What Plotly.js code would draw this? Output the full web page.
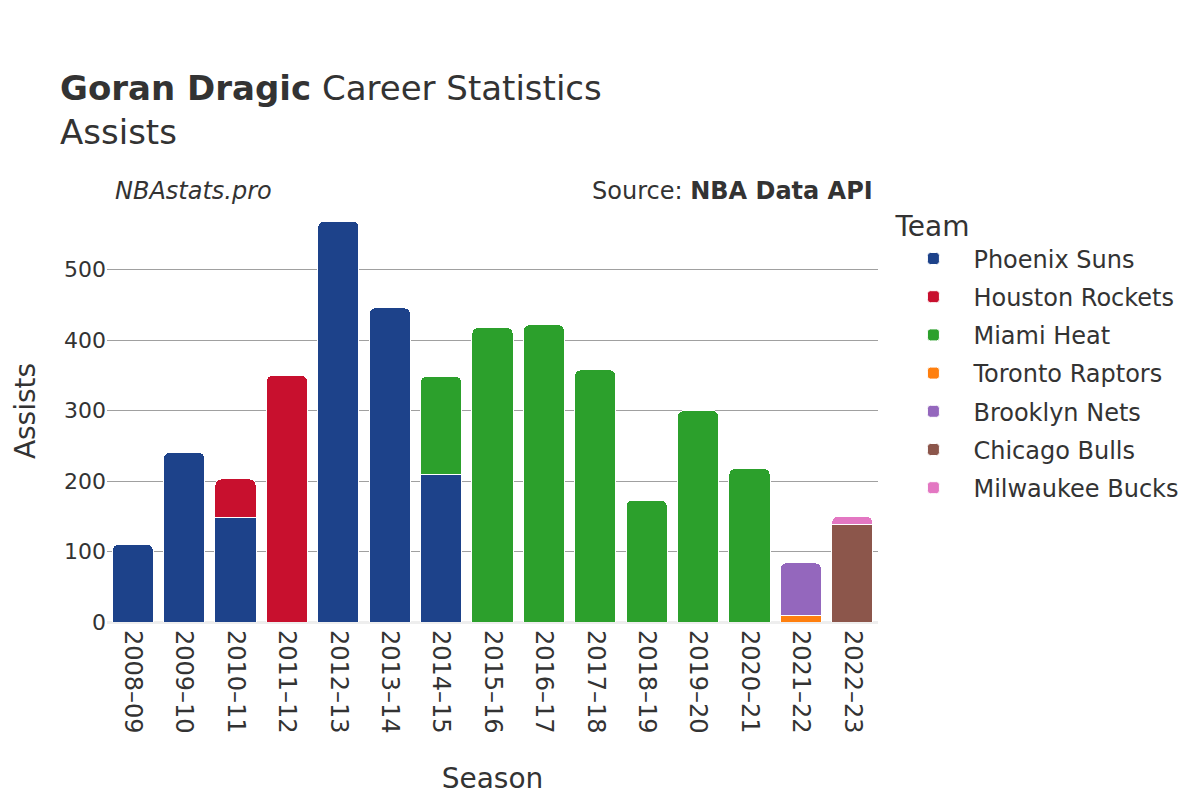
<!DOCTYPE html>
<html>
<head>
<meta charset="utf-8">
<script src="https://cdn.plot.ly/plotly-3.0.1.min.js"></script>
<style>html,body{margin:0;padding:0;background:#fff;}#chart{width:1200px;height:800px;}</style>
</head>
<body>
<div id="chart"></div>
<script>
const seasons = ["2008–09","2009–10","2010–11","2011–12","2012–13","2013–14","2014–15","2015–16","2016–17","2017–18","2018–19","2019–20","2020–21","2021–22","2022–23"];
const teams = ["Phoenix Suns","Houston Rockets","Miami Heat","Toronto Raptors","Brooklyn Nets","Chicago Bulls","Milwaukee Bucks"];
const colors = ["#1d428a","#c8102e","#2ca02c","#ff7f0e","#9467bd","#8c564b","#e377c2"];
const phoenix   = [110, 241, 149, null, 569, 446, 210, null, null, null, null, null, null, null, null];
const houston   = [null, null, 54, 350, null, null, null, null, null, null, null, null, null, null, null];
const miami     = [null, null, null, null, null, null, 139, 418, 422, 358, 173, 300, 218, null, null];
const toronto   = [null, null, null, null, null, null, null, null, null, null, null, null, null, 9, null];
const brooklyn  = [null, null, null, null, null, null, null, null, null, null, null, null, null, 75, null];
const chicago   = [null, null, null, null, null, null, null, null, null, null, null, null, null, null, 138];
const milwaukee = [null, null, null, null, null, null, null, null, null, null, null, null, null, null, 12];
const series = [phoenix, houston, miami, toronto, brooklyn, chicago, milwaukee];

const font = "DejaVu Sans";
const traces = teams.map((t, i) => ({
  type: "bar",
  name: t,
  legendgroup: t,
  x: seasons,
  y: series[i],
  marker: {color: colors[i], line: {color: "#ffffff", width: 1}},
  hovertemplate: "%{x}: %{y}<extra>" + t + "</extra>"
}));

const layout = {
  width: 1200, height: 800,
  font: {family: font, color: "#333"},
  paper_bgcolor: "#fff", plot_bgcolor: "#fff",
  barmode: "stack",
  bargap: 0.2,
  barcornerradius: 6,
  margin: {l: 107, r: 322, t: 200, b: 178},
  title: {
    text: "<b>Goran Dragic</b> Career Statistics<br>Assists",
    x: 0.05, xanchor: "left", xref: "container",
    y: 0.875, yanchor: "top", yref: "container",
    font: {family: font, size: 34, color: "#333"}
  },
  xaxis: {
    type: "category",
    tickangle: 90,
    tickfont: {family: font, size: 24, color: "#333"},
    ticklabelstandoff: 7,
    title: {text: "Season", font: {family: font, size: 28, color: "#333"}, standoff: 35},
    showgrid: false,
    ticks: ""
  },
  yaxis: {
    range: [0, 599],
    dtick: 100,
    tickfont: {family: font, size: 22, color: "#333"},
    title: {text: "Assists", font: {family: font, size: 28, color: "#333"}, standoff: 20},
    gridcolor: "#a0a0a0",
    gridwidth: 1,
    zeroline: true,
    zerolinecolor: "#eeeeee",
    zerolinewidth: 3,
    ticks: ""
  },
  legend: {
    title: {text: "Team", font: {family: font, size: 28, color: "#333"}},
    font: {family: font, size: 24, color: "#333"},
    x: 1.02, xanchor: "left", y: 1.0, yanchor: "top",
    traceorder: "grouped",
    tracegroupgap: 4,
    itemwidth: 70
  },
  annotations: [
    {text: "<i>NBAstats.pro</i>", xref: "paper", yref: "paper", x: 0.008, y: 1.0, xanchor: "left", yanchor: "bottom", yshift: -7, showarrow: false, font: {family: font, size: 24, color: "#333"}},
    {text: "Source: <b>NBA Data API</b>", xref: "paper", yref: "paper", x: 0.996, y: 1.0, xanchor: "right", yanchor: "bottom", yshift: -7, showarrow: false, font: {family: font, size: 24, color: "#333"}}
  ],
  showlegend: true
};

Plotly.newPlot("chart", traces, layout, {displayModeBar: false, staticPlot: true});
</script>
</body>
</html>
